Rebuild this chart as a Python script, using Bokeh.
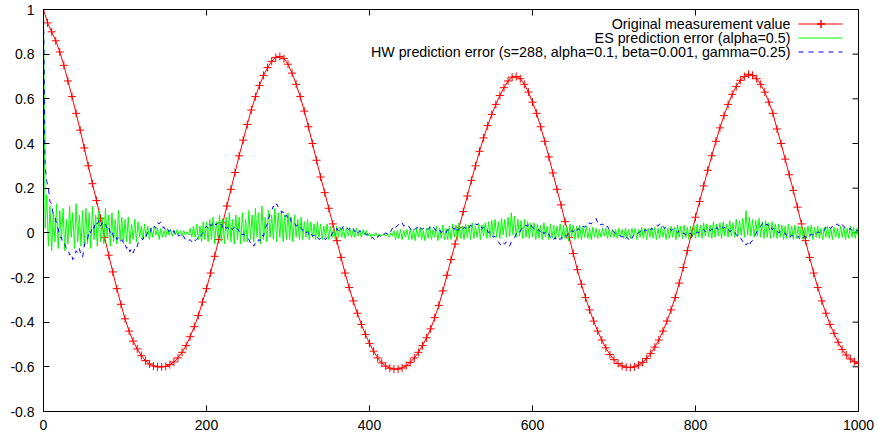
import math
from bokeh.plotting import figure
from bokeh.models import FixedTicker, PrintfTickFormatter, Label, Range1d, PolyAnnotation
from bokeh.embed import file_html
from bokeh.resources import INLINE

# ---- data ----
x_orig = list(range(0, 1001, 5))
y_orig = [
    1.00, .94, .90, .86, .81, .75, .68, .61, .535, .46, .38, .30, .22, .145, .065, -.02, -.10, -.175, -.25, -.32,
    -.385, -.44, -.485, -.52, -.55, -.572, -.587, -.596, -.60, -.60, -.598, -.59, -.578, -.56, -.535, -.505, -.465, -.42, -.37, -.31,
    -.25, -.18, -.105, -.03, .045, .12, .195, .27, .345, .415, .485, .55, .61, .66, .705, .74, .768, .785, .79, .78,
    .755, .715, .665, .61, .545, .475, .40, .325, .25, .18, .11, .04, -.035, -.11, -.18, -.245, -.305, -.36, -.41, -.455,
    -.495, -.53, -.56, -.582, -.597, -.606, -.61, -.61, -.605, -.595, -.58, -.56, -.535, -.505, -.47, -.43, -.38, -.325, -.26, -.19,
    -.12, -.05, .025, .095, .165, .235, .30, .365, .425, .48, .53, .575, .615, .65, .68, .697, .70, .69, .665, .63,
    .585, .535, .475, .41, .34, .268, .195, .125, .05, -.02, -.093, -.165, -.23, -.29, -.345, -.395, -.44, -.48, -.515, -.545,
    -.568, -.585, -.596, -.602, -.603, -.60, -.592, -.58, -.563, -.54, -.512, -.48, -.44, -.395, -.345, -.29, -.225, -.155, -.08, -.005,
    .07, .14, .21, .28, .345, .41, .47, .525, .575, .62, .655, .683, .70, .71, .705, .69, .665, .63, .585, .535,
    .465, .40, .33, .26, .19, .115, .04, -.035, -.11, -.18, -.245, -.305, -.36, -.41, -.45, -.49, -.522, -.547, -.565, -.577,
    -.585,
]

x_err = list(range(0, 1001, 2))
es_err = [
    1.0, .02, .17, -.06, .12, -.08, .09, -.04, .13, -.07, .10, -.03, .11, -.08, .06, -.05, .12, -.02, .09, -.07, .13, -.04, .08, -.06, .10,
    -.06, .11, -.05, .09, -.07, .12, -.03, .08, -.06, .10, -.04, .07, -.05, .11, -.02, .08, -.06, .09, -.04, .06, -.05, .10, -.03, .07, -.05,
    .06, -.04, .07, -.05, .04, -.03, .06, -.04, .05, -.02, .03, -.03, .04, -.02, .03, -.03, .02, -.02, .03, -.01, .02, -.03, .02, -.02, .01,
    -.02, .02, -.01, .015, -.015, .01, -.01, .015, -.005, .01, -.015, .01, -.01, .005, -.01, .02, -.02, .03, -.02, .04, -.03, .03, -.04, .05, -.03,
    .05, -.04, .06, -.03, .07, -.05, .05, -.02, .08, -.04, .06, -.05, .07, -.03, .09, -.04, .06, -.05, .08, -.03, .07, -.05, .09, -.04, .06,
    -.04, .10, -.03, .08, -.04, .11, -.02, .09, -.05, .12, -.03, .07, -.04, .10, -.02, .08, -.03, .11, -.04, .09, -.02, .10, -.04, .08, -.03,
    .09, -.03, .07, -.04, .08, -.02, .06, -.03, .07, -.03, .05, -.02, .06, -.03, .05, -.02, .04, -.03, .05, -.02, .04, -.03, .03, -.02, .04,
    -.03, .03, -.02, .02, -.03, .03, -.02, .025, -.02, .02, -.025, .02, -.015, .02, -.02, .015, -.02, .02, -.015, .01, -.02, .015, -.01, .01, -.015,
    .0, -.02, -.005, -.015, 0, -.02, -.005, -.015, -.01, -.005, -.015, -.005, -.02, 0, -.015, .01, -.03, .01, -.025, .015, -.03, .01, -.02, .015, -.03,
    .02, -.03, .015, -.035, .02, -.02, .025, -.03, .01, -.035, .02, -.025, .03, -.03, .015, -.02, .03, -.035, .02, -.025, .035, -.03, .02, -.03, .03,
    -.03, .04, -.02, .035, -.035, .045, -.025, .03, -.03, .04, -.02, .035, -.03, .045, -.025, .03, -.02, .04, -.03, .035, -.015, .045, -.025, .05, -.02,
    .055, -.015, .06, -.02, .05, -.025, .065, -.01, .06, -.02, .07, -.015, .09, -.01, .075, -.02, .06, -.015, .055, -.025, .06, -.02, .05, -.025, .045,
    -.02, .045, -.03, .04, -.025, .035, -.03, .045, -.02, .03, -.03, .04, -.025, .035, -.03, .03, -.02, .04, -.03, .035, -.025, .03, -.035, .04, -.02,
    .035, -.03, .03, -.025, .035, -.03, .025, -.02, .03, -.025, .02, -.03, .025, -.02, .02, -.025, .015, -.02, .02, -.015, .02, -.025, .015, -.02, .015,
    -.02, .015, -.025, .02, -.015, .015, -.025, .02, -.02, .015, -.025, .02, -.015, .02, -.03, .015, -.02, .025, -.025, .02, -.03, .02, -.02, .025, -.025,
    .025, -.03, .02, -.025, .03, -.02, .025, -.03, .02, -.025, .03, -.02, .025, -.03, .035, -.02, .03, -.025, .035, -.02, .025, -.03, .03, -.02, .035,
    -.025, .04, -.02, .035, -.025, .045, -.015, .04, -.02, .035, -.025, .05, -.02, .04, -.015, .045, -.025, .05, -.015, .04, -.02, .055, -.015, .045, -.02,
    .06, -.015, .055, -.01, .065, -.02, .10, -.01, .07, -.015, .06, -.02, .055, -.015, .065, -.02, .05, -.025, .055, -.02, .045, -.025, .05, -.02, .04,
    -.025, .04, -.02, .035, -.03, .03, -.025, .04, -.02, .03, -.03, .035, -.025, .03, -.02, .035, -.03, .025, -.025, .03, -.02, .035, -.03, .025, -.02,
    .03, -.025, .02, -.03, .025, -.02, .03, -.025, .02, -.03, .025, -.02, .02, -.025, .03, -.02, .025, -.03, .02, -.025, .03, -.02, .025, -.025, .02,
    -.02,
]
hw_err = [
    1.0, .30, .23, .20, .14, .13, .08, .07, .04, .02, -.02, -.02, -.05, -.05, -.07, -.07, -.10, -.09, -.12, -.11, -.08, -.09, -.07, -.10, -.11,
    -.06, -.03, -.03, .01, .0, .03, .02, .05, .04, .055, .03, .045, .03, .04, .015, .025, .0, .01, -.02, -.01, -.03, -.02, -.04, -.03, -.05,
    -.05, -.07, -.06, -.085, -.07, -.09, -.07, -.075, -.045, -.04, -.025, -.03, -.005, -.015, .005, -.005, .02, .01, .03, .02, .045, .04, .05, .025, .025,
    .01, .02, .005, .015, .0, .01, -.01, .0, -.015, -.01, -.025, -.015, -.03, -.025, -.035, -.03, -.04, -.025, -.035, -.03, -.02, -.025, -.005, .0, .02,
    .03, .02, .04, .03, .05, .04, .035, .045, .03, .04, .025, .035, .02, .025, .01, .02, .015, .025, .01, .02, .005, .01, -.01, -.005, -.02,
    -.025, -.03, -.045, -.04, -.06, -.045, -.05, -.03, -.035, -.01, -.015, .02, .035, .06, .085, .10, .12, .11, .13, .115, .11, .09, .095, .07, .08,
    .06, .07, .05, .04, .045, .03, .035, .02, .025, .01, .015, .0, .005, -.01, .0, -.015, -.01, -.025, -.02, -.03, -.025, -.035, -.025, -.03, -.02,
    -.015, -.02, -.005, .005, .0, .02, .01, .025, .015, .03, .02, .025, .015, .02, .01, .02, .005, .015, .0, .01, .005, -.005, .0, -.01, -.005,
    -.015, -.025, -.02, -.03, -.015, -.02, -.01, -.02, -.01, -.005, .0, -.005, .01, .005, .02, .01, .025, .03, .04, .035, .045, .03, .035, .025, .03,
    .02, .01, .02, .015, .025, .02, .03, .015, .02, .01, .02, .015, .025, .02, .03, .015, .01, .005, .015, .0, .01, .005, .0, .015, .01,
    .02, .025, .015, .03, .01, .02, .015, .01, .025, .02, .03, .02, .035, .025, .03, .04, .035, .045, .03, .02, .025, .01, .015, .0, .005,
    -.01, -.02, -.015, -.035, -.04, -.05, -.06, -.045, -.05, -.04, -.055, -.06, -.04, -.035, -.02, -.005, .005, .0, .015, .025, .02, .035, .03, .045, .035,
    .025, .015, .02, .01, .015, .0, .01, -.005, .005, -.01, -.005, -.02, -.015, -.03, -.02, -.035, -.025, -.03, -.02, -.025, -.01, -.015, .0, -.005, .01,
    .005, .015, .005, .02, .01, .02, .03, .025, .035, .03, .045, .04, .05, .055, .065, .045, .05, .035, .04, .03, .02, .03, .015, .02, .01,
    .005, -.005, .0, -.01, -.015, -.02, -.01, -.025, -.02, -.03, -.015, -.025, -.01, -.015, -.005, .0, .005, .01, .0, .015, .01, .02, .01, .02, .015,
    .025, .035, .03, .04, .025, .03, .02, .025, .015, .02, .01, .015, .005, .01, .0, .01, .005, -.005, .0, -.01, -.005, -.01, .0, -.015, -.005,
    -.005, .005, .0, .01, .005, .015, .005, .01, .02, .01, .015, .02, .01, .025, .015, .02, .03, .02, .025, .015, .02, .005, .01, .0, .005,
    -.01, -.015, -.03, -.025, -.04, -.035, -.055, -.045, -.06, -.04, -.035, -.02, -.005, .01, .02, .03, .04, .05, .035, .04, .025, .03, .015, .02, .005,
    .01, .0, .005, -.005, -.01, .0, -.015, -.01, -.02, -.01, -.015, -.02, -.025, -.015, -.03, -.02, -.025, -.015, -.02, -.01, -.015, -.005, -.01, .0, -.005,
    .005, .0, .01, .015, .01, .025, .015, .025, .02, .03, .025, .035, .04, .03, .045, .035, .03, .02, .025, .015, .02, .01, .015, .005, .01,
    .01,
]

x_ticks = [0, 200, 400, 600, 800, 1000]
y_ticks = [-0.8, -0.6, -0.4, -0.2, 0, 0.2, 0.4, 0.6, 0.8, 1]
legend_labels = [
    "Original measurement value",
    "ES prediction error (alpha=0.5)",
    "HW prediction error (s=288, alpha=0.1, beta=0.001, gamma=0.25)",
]
series_colors = ["#ff0000", "#00ff00", "#0000ff"]

FONT = "Liberation Sans"

p = figure(width=877, height=439, x_range=Range1d(0, 1000), y_range=Range1d(-0.8, 1),
           min_border_left=43, min_border_right=19, min_border_top=9, min_border_bottom=28,
           output_backend="svg", toolbar_location=None)
p.background_fill_color = "white"
p.border_fill_color = "white"
p.outline_line_color = "black"
p.outline_line_width = 1
p.outline_line_alpha = 1
p.xgrid.visible = False
p.ygrid.visible = False


def style_axis(ax, ticks, standoff):
    ax.ticker = FixedTicker(ticks=ticks)
    ax.major_tick_in = 6
    ax.major_tick_out = 0
    ax.major_tick_line_color = "black"
    ax.minor_tick_line_color = None
    ax.axis_line_color = "black"
    ax.major_label_text_font = FONT
    ax.major_label_text_color = "black"
    ax.major_label_text_font_size = "14px"
    ax.major_label_standoff = standoff
    ax.formatter = PrintfTickFormatter(format="%g")


style_axis(p.xaxis[0], x_ticks, 8)
style_axis(p.yaxis[0], y_ticks, 9)

# mirrored tick marks on top and right edges (half of each dash is clipped by the frame)
p.scatter(x_ticks, [p.y_range.end] * len(x_ticks), marker="dash", angle=math.pi / 2,
          size=12, line_color="black", line_width=1)
p.scatter([p.x_range.end] * len(y_ticks), y_ticks, marker="dash",
          size=12, line_color="black", line_width=1)

p.line(x_orig, y_orig, color=series_colors[0], line_width=1)
p.scatter(x_orig, y_orig, marker="cross", size=8, color=series_colors[0], line_width=1)
p.line(x_err, es_err, color=series_colors[1], line_width=1)
p.line(x_err, hw_err, color=series_colors[2], line_width=1, line_dash="5 5")

# ---- key (text right-aligned, sample to its right), screen units relative to the frame ----
TEXT_RIGHT = 747
SAMPLE_L, SAMPLE_R = 755, 799
ROW0, ROW_STEP = 388, 14
dashes = ["solid", "solid", "5 5"]
for i, txt in enumerate(legend_labels):
    yc = ROW0 - ROW_STEP * i
    p.add_layout(Label(x=TEXT_RIGHT, y=yc, x_units="screen", y_units="screen", text=txt,
                       text_align="right", text_baseline="middle", text_font=FONT,
                       text_font_size="14.3px", text_color="black"))
    p.add_layout(PolyAnnotation(xs=[SAMPLE_L, SAMPLE_R], ys=[yc - 0.5, yc - 0.5],
                                xs_units="screen", ys_units="screen",
                                line_color=series_colors[i], line_alpha=1.0, line_width=1,
                                line_dash=dashes[i], fill_color=None, fill_alpha=0))
xm = (SAMPLE_L + SAMPLE_R) / 2 + 0.5
yr = ROW0 - 0.5
p.add_layout(PolyAnnotation(xs=[xm - 4, xm + 4, xm, xm, xm, xm], ys=[yr, yr, yr, yr + 4, yr - 4, yr],
                            xs_units="screen", ys_units="screen", line_color=series_colors[0],
                            line_alpha=1.0, line_width=1, fill_color=None, fill_alpha=0))

open("out.html", "w").write(file_html(p, INLINE))
